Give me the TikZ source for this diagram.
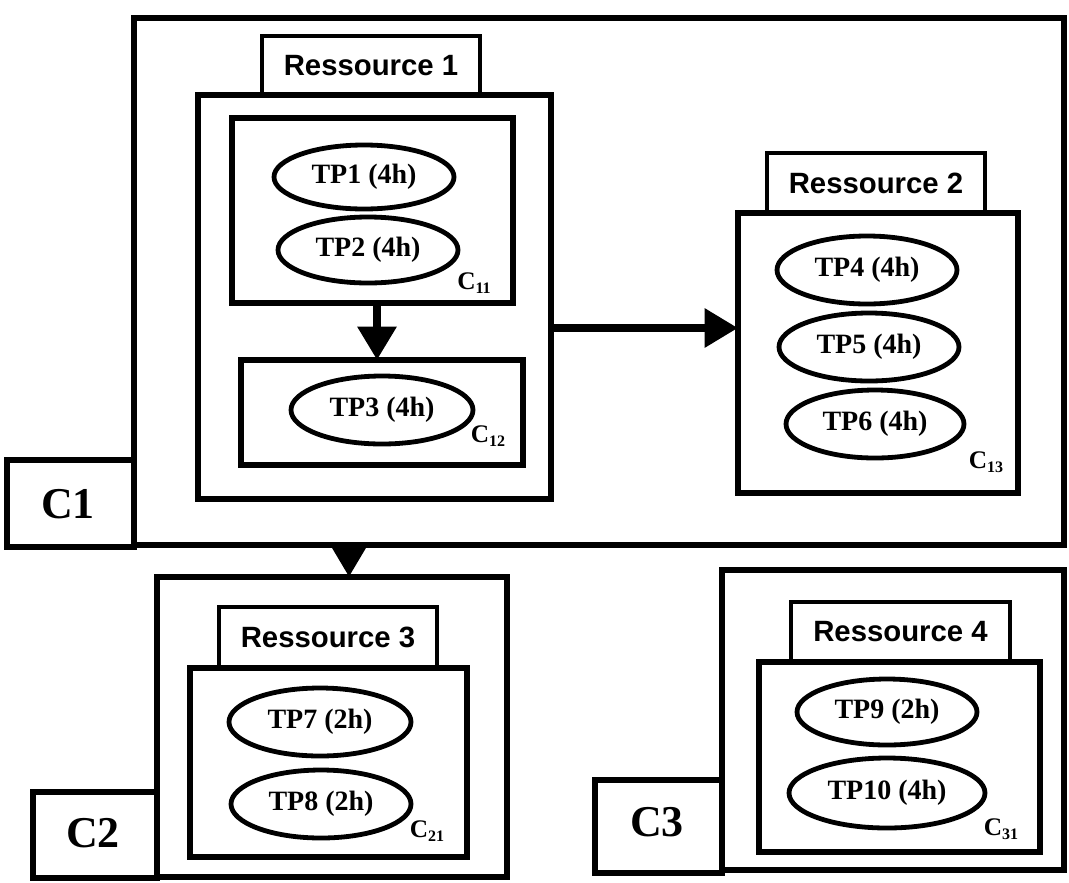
\documentclass[tikz,border=0pt]{standalone}
\usepackage{fontspec}
\setmainfont{Liberation Serif}
\setsansfont{Liberation Sans}
\usetikzlibrary{arrows.meta,shapes.geometric,fit}
\newcommand{\csub}[1]{C\raisebox{-0.35ex}{\fontsize{12}{14}\selectfont #1}}
\tikzset{
  frame/.style={draw, line width=4.1pt, fill=white, inner sep=0pt, outer sep=0pt},
  tabbox/.style={draw, line width=2.3pt, fill=white, inner sep=0pt, outer sep=0pt},
  tabtext/.style={inner sep=0pt, font=\sffamily\bfseries\fontsize{22}{24}\selectfont},
  tp/.style={draw, ellipse, line width=3.6pt, fill=white, inner sep=0pt, outer sep=0pt,
    font=\bfseries\fontsize{21}{24}\selectfont},
  tpsize/.style 2 args={minimum width=#1*0.75pt, minimum height=#2*0.75pt},
  clabel/.style={inner sep=0pt, font=\bfseries\fontsize{33}{36}\selectfont},
  sublabel/.style={inner sep=0pt, font=\bfseries\fontsize{19}{22}\selectfont},
  arr/.style={line width=6pt, -{Triangle[length=25pt,width=28pt]}},
}
\begin{document}
\begin{tikzpicture}[x=0.75pt,y=-0.75pt]
\useasboundingbox (0,0) rectangle (1069,882);
% ---- C1 ----
\node[frame, fit={(134,18) (1064,545)}] (C1box) {};
\node[frame, fit={(7,460) (134,547)}] (C1lab) {};
\node[clabel] (C1txt) at (68,504) {C1};
\node[tabbox, fit={(262,36) (480,95)}] (R1tab) {};
\node[tabtext] (R1txt) at (R1tab) {Ressource 1};
\node[frame, fit={(198,95) (551,499)}] (R1box) {};
\node[frame, fit={(232,118) (513,303)}] (C11) {};
\node[tp, tpsize={180}{64}] (TP1) at (364,177) {TP1 (4h)};
\node[tp, tpsize={180}{66}] (TP2) at (368,250) {TP2 (4h)};
\node[sublabel] (C11l) at (474,283) {\csub{11}};
\node[frame, fit={(241,360) (523,465)}] (C12) {};
\node[tp, tpsize={182}{68}] (TP3) at (382,410) {TP3 (4h)};
\node[sublabel] (C12l) at (488,436) {\csub{12}};
\node[tabbox, fit={(767,153) (985,213)}] (R2tab) {};
\node[tabtext] (R2txt) at (R2tab) {Ressource 2};
\node[frame, fit={(738,213) (1018,493)}] (R2box) {};
\node[tp, tpsize={180}{68}] (TP4) at (867,270) {TP4 (4h)};
\node[tp, tpsize={180}{68}] (TP5) at (869,347) {TP5 (4h)};
\node[tp, tpsize={178}{68}] (TP6) at (875,424) {TP6 (4h)};
\node[sublabel] (C13l) at (986,462) {\csub{13}};
\coordinate (a1) at (377,0);
\coordinate (a2) at (0,328);
\draw[arr] (C11.south -| a1) -- (C12.north -| a1);
\draw[arr] (R1box.east |- a2) -- (R2box.west |- a2);
% ---- C2 ----
\node[frame, fit={(157,577) (507,877)}] (C2box) {};
\node[frame, fit={(33,792) (157,878)}] (C2lab) {};
\node[clabel] (C2txt) at (93,833) {C2};
\node[tabbox, fit={(219,607) (437,668)}] (R3tab) {};
\node[tabtext] (R3txt) at (R3tab) {Ressource 3};
\node[frame, fit={(190,668) (467,857)}] (R3box) {};
\node[tp, tpsize={182}{68}] (TP7) at (320,722) {TP7 (2h)};
\node[tp, tpsize={180}{68}] (TP8) at (321,804) {TP8 (2h)};
\node[sublabel] (C21l) at (427,831) {\csub{21}};
\coordinate (a3) at (349,0);
\draw[line width=6pt, -{Triangle[length=22pt,width=24pt]}] (C1box.south -| a3) -- (C2box.north -| a3);
% ---- C3 ----
\node[frame, fit={(722,570) (1064,870)}] (C3box) {};
\node[frame, fit={(595,780) (722,873)}] (C3lab) {};
\node[clabel] (C3txt) at (657,822) {C3};
\node[tabbox, fit={(791,602) (1010,662)}] (R4tab) {};
\node[tabtext] (R4txt) at (R4tab) {Ressource 4};
\node[frame, fit={(759,662) (1040,852)}] (R4box) {};
\node[tp, tpsize={180}{66}] (TP9) at (887,712) {TP9 (2h)};
\node[tp, tpsize={196}{70}] (TP10) at (887,793) {TP10 (4h)};
\node[sublabel] (C31l) at (1001,829) {\csub{31}};
\end{tikzpicture}
\end{document}
